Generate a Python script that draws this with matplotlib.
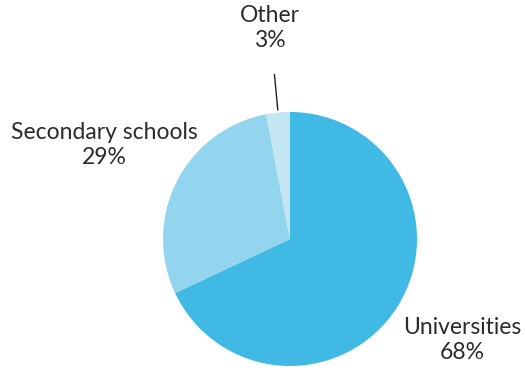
import matplotlib
matplotlib.use("Agg")
import matplotlib.pyplot as plt
import numpy as np

categories = ["Universities", "Secondary schools", "Other"]
values = [68, 29, 3]
colors = ["#40b9e5", "#93d5ee", "#c4e6f2"]

plt.rcParams['font.family'] = ['Lato', 'DejaVu Sans']

fig = plt.figure(figsize=(5.25, 3.76), dpi=100)
ax = fig.add_axes([(290 - 127) / 525, (376 - 239 - 127) / 376, 254 / 525, 254 / 376])
wedges, _ = ax.pie(values, colors=colors, startangle=90, counterclock=False,
                   radius=1, wedgeprops=dict(linewidth=0))
ax.set_xlim(-1, 1)
ax.set_ylim(-1, 1)
ax.set_aspect('auto')
ax.axis('off')

fs = 16.5
tc = '#2b2b2b'
label_pos = [(1.36, -0.795), (-1.465, 0.74), (-0.157, 1.66)]
for w, cat, v, (lx, ly) in zip(wedges, categories, values, label_pos):
    txt = f"{cat}\n{v}%"
    if cat == "Other":
        ang = np.deg2rad((w.theta1 + w.theta2) / 2)
        ax.annotate(txt, xy=(1.02 * np.cos(ang), 1.02 * np.sin(ang)),
                    xytext=(lx, ly), ha='center', va='center', fontsize=fs,
                    color=tc, linespacing=1.2,
                    annotation_clip=False,
                    arrowprops=dict(arrowstyle='-', color='#222222', lw=1,
                                    shrinkA=15, shrinkB=0))
    else:
        ax.text(lx, ly, txt, ha='center', va='center', fontsize=fs,
                color=tc, linespacing=1.2, clip_on=False)

fig.savefig("out.png", dpi=100)
